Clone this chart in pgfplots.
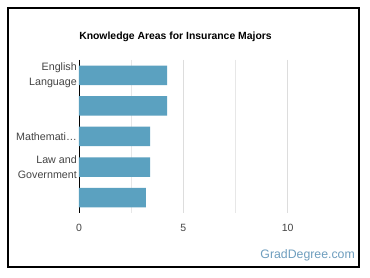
\documentclass[border=0pt]{standalone}
\usepackage{pgfplots}
\pgfplotsset{compat=1.18}
\usepackage{fontspec}
\setmainfont{Liberation Sans}
\definecolor{barblue}{RGB}{91,161,192}
\definecolor{gridgray}{RGB}{221,221,221}
\definecolor{ticktext}{RGB}{68,68,68}
\definecolor{brand}{RGB}{110,158,190}
\begin{document}
\begin{tikzpicture}[x=1pt,y=1pt]
\useasboundingbox (0,0) rectangle (370,278);
\fill[white] (0,0) rectangle (370,278);
\draw[line width=1.5pt, black] (8,11) rectangle (359,270);
\node[font=\bfseries\fontsize{10.4}{12}\selectfont, anchor=center] at (175.5,241) {Knowledge Areas for Insurance Majors};
\node[font=\fontsize{12.3}{14}\selectfont, text=brand, anchor=east, inner sep=0pt] at (355,23) {GradDegree.com};
\begin{axis}[
  at={(79pt,65pt)}, anchor=south west,
  scale only axis, width=215pt, height=153pt,
  xbar, bar width=19.5pt,
  xmin=0, xmax=10.3,
  ymin=-0.5, ymax=4.5, y dir=reverse,
  ytick={0,1,2,3,4},
  yticklabels={{English\\Language},{},{Mathemati…},{Law and\\Government},{}},
  yticklabel style={align=right, font=\fontsize{10.7}{14.4}\selectfont, text=ticktext, inner sep=1pt},
  xtick={0,5,10},
  minor xtick={2.5,7.5},
  xticklabel style={font=\fontsize{10.5}{12}\selectfont, text=ticktext},
  /pgf/number format/assume math mode=true,
  xmajorgrids, xminorgrids,
  major grid style={gridgray, line width=0.8pt},
  minor grid style={gridgray!70, line width=0.8pt},
  axis x line*=bottom,
  axis y line*=left,
  x axis line style={draw=none},
  y axis line style={black, line width=0.9pt, -},
  major tick length=0pt, minor tick length=0pt,
  ytick style={draw=none}, xtick style={draw=none},
  xticklabel shift=8pt,
  yticklabel shift=1pt,
  clip=false,
]
\addplot[fill=barblue, draw=none] coordinates {(4.22,0) (4.22,1) (3.41,2) (3.41,3) (3.20,4)};
\end{axis}
\end{tikzpicture}
\end{document}
